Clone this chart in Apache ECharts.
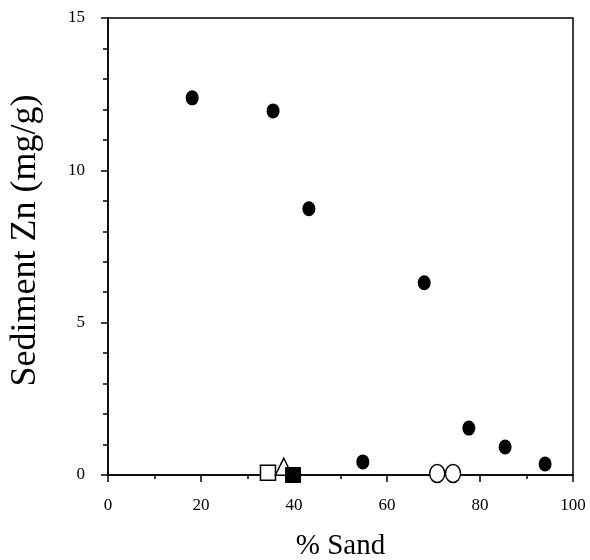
<!DOCTYPE html>
<html><head><meta charset="utf-8">
<script src="https://cdn.jsdelivr.net/npm/echarts@6/dist/echarts.min.js"></script>
<style>html,body{margin:0;padding:0;background:#fff}#c{width:590px;height:560px}</style>
</head><body><div id="c"></div>
<script>
var filledCircles = [[18.1,12.38],[35.5,11.95],[43.2,8.74],[68.0,6.31],[77.6,1.54],[85.4,0.92],[94.0,0.36],[54.8,0.43]];
var openSquare = [[34.4,0.07]];
var openTriangle = [[37.8,0.27]];
var filledSquare = [[39.8,0.0]];
var openCircles = [[70.8,0.05],[74.2,0.05]];
var xTicks = [0,20,40,60,80,100];
var yTicks = [0,5,10,15];

var chart = echarts.init(document.getElementById('c'), null, {renderer:'canvas'});
var font = 'Liberation Serif';
chart.setOption({
  animation:false,
  backgroundColor:'#fff',
  grid:{left:108,right:17,top:18,bottom:85,outerBoundsMode:'none',containLabel:false,show:true,borderColor:'#000',borderWidth:1.5,backgroundColor:'transparent'},
  xAxis:{type:'value',min:0,max:100,interval:20,
    name:'% Sand',nameLocation:'middle',nameGap:57,
    nameTextStyle:{fontFamily:font,fontSize:29,color:'#000'},
    axisLine:{show:true,onZero:false,lineStyle:{color:'#000',width:1.5}},
    axisTick:{show:true,inside:false,length:7,lineStyle:{color:'#000',width:1.5}},
    minorTick:{show:true,splitNumber:2,length:4,lineStyle:{color:'#000',width:1.5}},
    splitLine:{show:false},
    axisLabel:{fontFamily:font,fontSize:17,color:'#000',margin:22,
      formatter:function(v){return xTicks.indexOf(v)>=0?String(v):'';}}
  },
  yAxis:{type:'value',min:0,max:15,interval:5,
    name:'Sediment Zn (mg/g)',nameLocation:'middle',nameGap:64,
    nameTextStyle:{fontFamily:font,fontSize:36,color:'#000',padding:[0,0,0,12]},
    axisLine:{show:true,onZero:false,lineStyle:{color:'#000',width:1.5}},
    axisTick:{show:true,inside:false,length:7,lineStyle:{color:'#000',width:1.5}},
    minorTick:{show:true,splitNumber:5,length:5,lineStyle:{color:'#000',width:1.5}},
    splitLine:{show:false},
    axisLabel:{fontFamily:font,fontSize:17,color:'#000',margin:23,
      formatter:function(v){return yTicks.indexOf(v)>=0?String(v):'';}}
  },
  series:[
    {type:'scatter',data:filledCircles,symbol:'circle',symbolSize:[13,15],itemStyle:{color:'#000',opacity:1},z:3},
    {type:'scatter',data:openSquare,symbol:'rect',symbolSize:[15,15],itemStyle:{color:'#fff',borderColor:'#000',borderWidth:1.5,opacity:1},z:3},
    {type:'scatter',data:openTriangle,symbol:'triangle',symbolSize:[17,17],itemStyle:{color:'#fff',borderColor:'#000',borderWidth:1.5,opacity:1},z:4},
    {type:'scatter',data:filledSquare,symbol:'rect',symbolSize:[15,15],itemStyle:{color:'#000',borderColor:'#000',borderWidth:1,opacity:1},z:5},
    {type:'scatter',data:openCircles,symbol:'circle',symbolSize:[15,18],itemStyle:{color:'#fff',borderColor:'#000',borderWidth:1.5,opacity:1},z:3}
  ]
});
</script></body></html>
